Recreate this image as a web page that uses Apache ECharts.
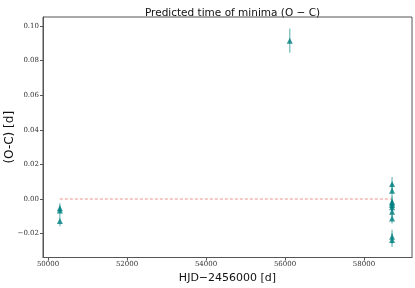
<!DOCTYPE html>
<html><head><meta charset="utf-8">
<script src="https://cdn.jsdelivr.net/npm/echarts@6/dist/echarts.min.js"></script>
<style>html,body{margin:0;padding:0;background:#fff}#c{width:415px;height:288px}</style>
</head><body><div id="c"></div>
<script>
// Observations: HJD-2456000, O-C [d], error [d]
const obsX = [50300, 50300, 50300, 56120, 58710, 58710, 58710, 58710, 58710, 58710, 58710, 58710, 58710, 58710];
const obsY = [-0.0054, -0.0067, -0.0127, 0.0915, 0.0087, 0.0048, -0.0016, -0.0025, -0.0035, -0.0048, -0.0073, -0.0112, -0.0218, -0.0237];
const obsErr = [0.003, 0.003, 0.003, 0.007, 0.004, 0.004, 0.003, 0.003, 0.003, 0.003, 0.003, 0.003, 0.004, 0.004];
const refLineX = [50300, 58710];
const refLineY = [0, 0];
const xTicks = [50000, 52000, 54000, 56000, 58000];
const yTicks = [-0.02, 0.00, 0.02, 0.04, 0.06, 0.08, 0.10];

const pts = obsX.map((x, i) => [x, obsY[i], obsErr[i]]);
const chart = echarts.init(document.getElementById('c'));
const tickFont = {fontFamily: 'DejaVu Serif', fontSize: 7, color: '#333'};
chart.setOption({
  animation: false,
  title: {text: 'Predicted time of minima (O − C)', left: 227.5, textAlign: 'center', top: 3,
    textStyle: {fontFamily: 'DejaVu Sans', fontSize: 10.5, fontWeight: 'normal', color: '#111'}},
  grid: {left: 43, right: 3, top: 17, bottom: 30.5, outerBoundsMode: 'none', containLabel: false,
    show: true, borderColor: '#555', borderWidth: 1},
  xAxis: {type: 'value', min: 49873, max: 59215,
    name: 'HJD−2456000 [d]', nameLocation: 'middle', nameGap: 15, nameMoveOverlap: false,
    nameTextStyle: {fontFamily: 'DejaVu Sans', fontSize: 11, color: '#111'},
    splitLine: {show: false},
    axisLine: {show: true, onZero: false, lineStyle: {color: '#555'}},
    axisTick: {show: true, length: 3, customValues: xTicks, lineStyle: {color: '#555'}},
    axisLabel: Object.assign({customValues: xTicks, margin: 3, formatter: v => String(Math.round(v))}, tickFont)},
  yAxis: {type: 'value', min: -0.0338, max: 0.1052,
    name: '(O-C) [d]', nameLocation: 'middle', nameGap: 27, nameMoveOverlap: false,
    nameTextStyle: {fontFamily: 'DejaVu Sans', fontSize: 12, color: '#111'},
    splitLine: {show: false},
    axisLine: {show: true, onZero: false, lineStyle: {color: '#555'}},
    axisTick: {show: true, length: 3, customValues: yTicks, lineStyle: {color: '#555'}},
    axisLabel: Object.assign({customValues: yTicks, margin: 4, formatter: v => v.toFixed(2).replace('-', '−')}, tickFont)},
  series: [
    {type: 'line', data: refLineX.map((x, i) => [x, refLineY[i]]), symbol: 'none',
      lineStyle: {color: 'rgba(225,90,80,0.65)', width: 1, type: [3, 2]}, z: 1},
    {type: 'custom', data: pts, z: 2,
      renderItem: (params, api) => {
        const x = api.value(0), y = api.value(1), e = api.value(2);
        const p1 = api.coord([x, y + e]), p2 = api.coord([x, y - e]);
        return {type: 'line', shape: {x1: p1[0], y1: p1[1], x2: p2[0], y2: p2[1]},
          style: {stroke: 'rgba(0,128,128,0.45)', lineWidth: 1.5}};
      }},
    {type: 'scatter', data: pts.map(p => [p[0], p[1]]), symbol: 'triangle', symbolSize: 6,
      itemStyle: {color: '#008080'}, z: 3}
  ]
});
</script></body></html>
